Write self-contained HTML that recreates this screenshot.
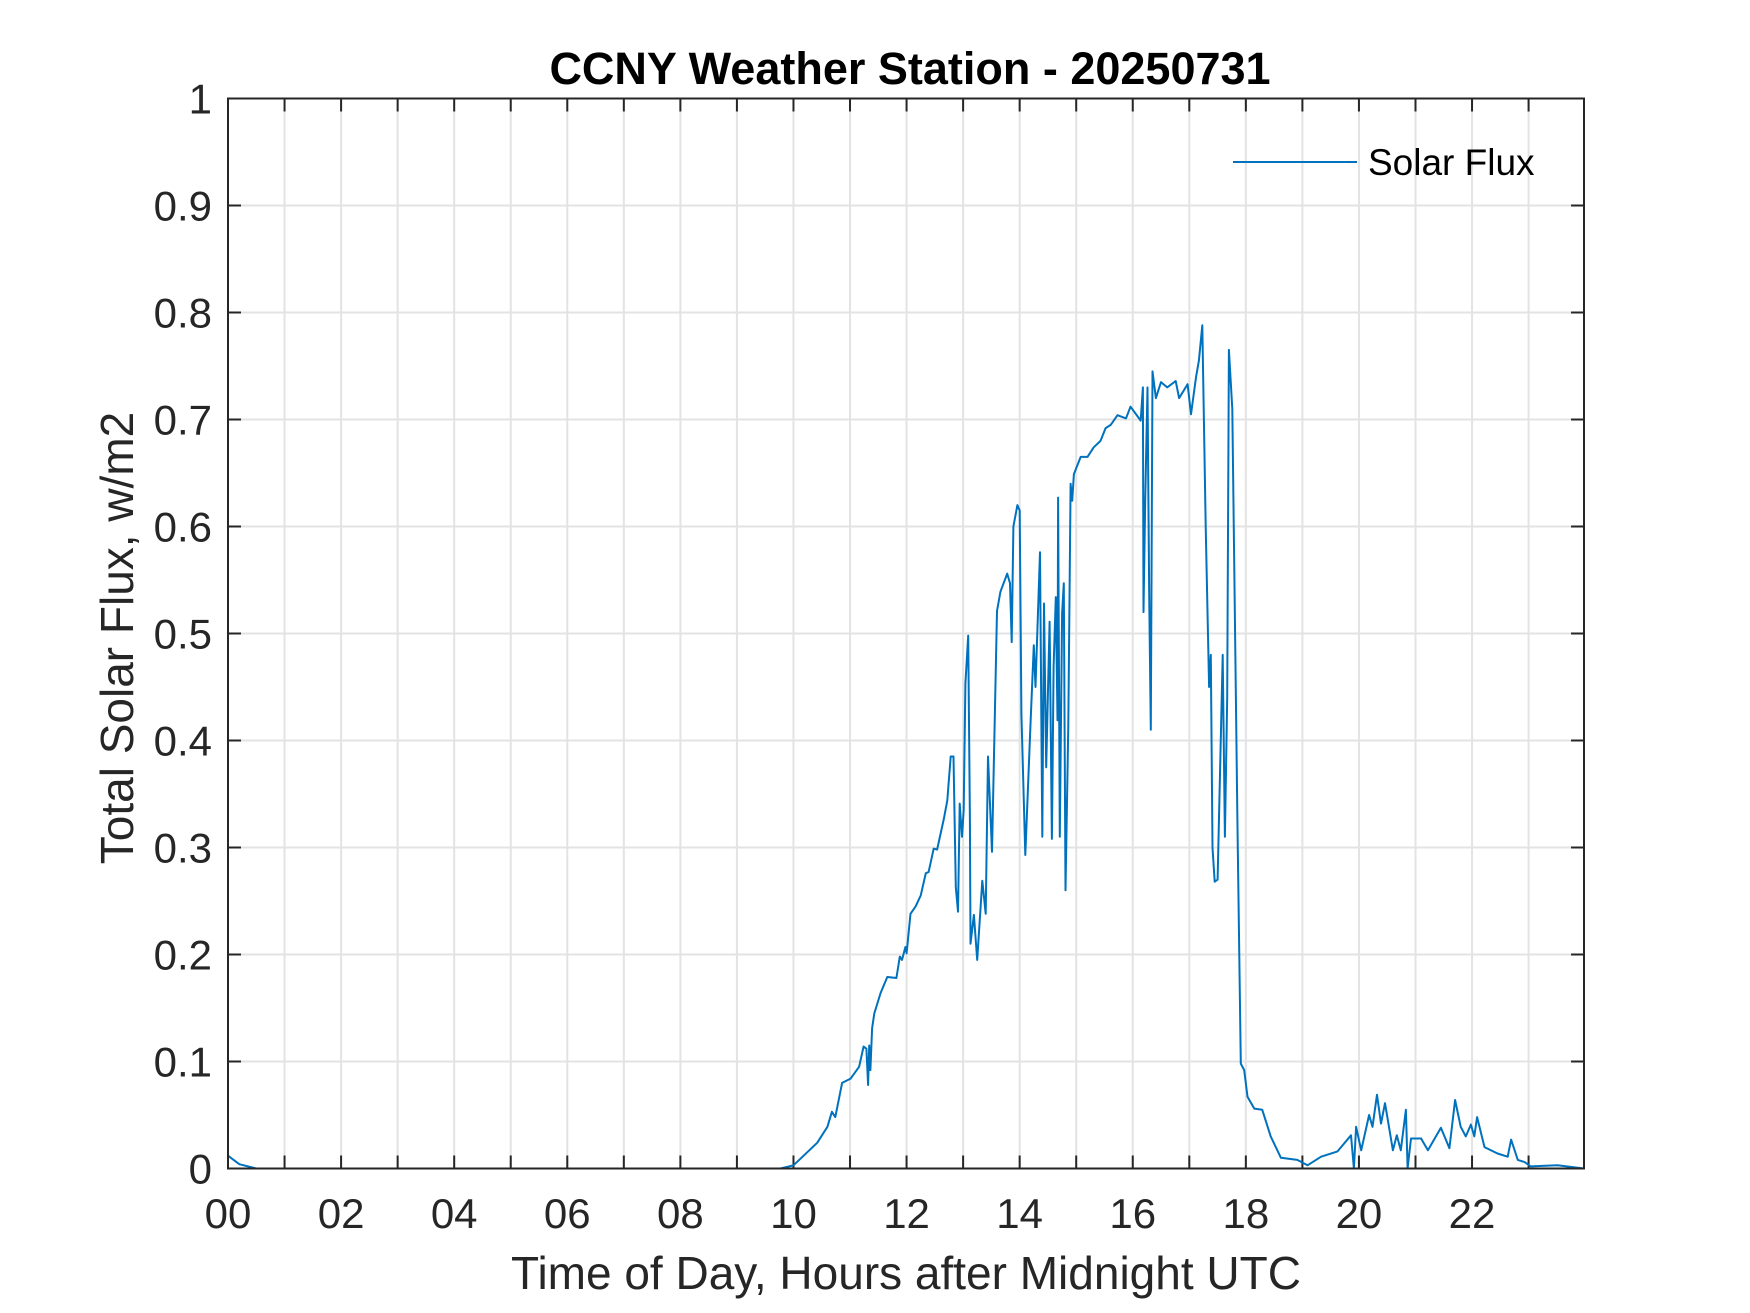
<!DOCTYPE html>
<html><head><meta charset="utf-8"><style>
html,body{margin:0;padding:0;background:#fff;}
svg{display:block;font-family:"Liberation Sans",Arial,sans-serif;}
</style></head><body>
<svg id="chart" width="1750" height="1313" viewBox="0 0 1750 1313">
<rect x="0" y="0" width="1750" height="1313" fill="#fff"/>
<g id="grid"></g>
<g id="ticks"></g>
<g id="series"></g>
<rect x="228" y="98.5" width="1356" height="1070" fill="none" stroke="#262626" stroke-width="2"/>
<text x="910" y="84" text-anchor="middle" font-size="45" font-weight="bold" fill="#000">CCNY Weather Station - 20250731</text>
<text x="906" y="1289" text-anchor="middle" font-size="46" fill="#262626">Time of Day, Hours after Midnight UTC</text>
<text transform="translate(133,638) rotate(-90)" text-anchor="middle" font-size="46" fill="#262626">Total Solar Flux, w/m2</text>
<g>
<line x1="1233" y1="162" x2="1357" y2="162" stroke="#0072BD" stroke-width="2"/>
<text x="1368" y="175" font-size="37" fill="#000">Solar Flux</text>
</g>
</svg>
<script>
const hours=[0,0.2,0.5,9.77,10.0,10.42,10.6,10.68,10.74,10.86,11.01,11.16,11.24,11.29,11.32,11.34,11.36,11.39,11.43,11.54,11.66,11.82,11.88,11.92,11.98,12.0,12.07,12.16,12.25,12.34,12.39,12.48,12.54,12.66,12.72,12.78,12.83,12.87,12.91,12.94,12.98,13.01,13.04,13.09,13.12,13.13,13.19,13.25,13.34,13.4,13.44,13.51,13.6,13.66,13.78,13.83,13.86,13.89,13.96,14.0,14.03,14.1,14.19,14.25,14.28,14.36,14.4,14.43,14.47,14.53,14.57,14.6,14.64,14.67,14.68,14.71,14.75,14.78,14.81,14.86,14.9,14.93,14.96,15.08,15.2,15.31,15.43,15.52,15.61,15.73,15.88,15.96,16.14,16.18,16.19,16.22,16.26,16.29,16.32,16.35,16.41,16.5,16.61,16.76,16.82,16.97,17.03,17.12,17.17,17.23,17.29,17.35,17.38,17.41,17.45,17.5,17.59,17.63,17.67,17.7,17.76,17.85,17.91,17.97,18.03,18.15,18.29,18.44,18.62,18.91,19.09,19.33,19.62,19.86,19.91,19.95,20.04,20.18,20.24,20.32,20.39,20.46,20.6,20.67,20.74,20.83,20.86,20.92,21.1,21.22,21.45,21.6,21.7,21.8,21.89,21.98,22.04,22.09,22.22,22.45,22.63,22.69,22.81,22.93,23.04,23.51,23.98];
const flux=[0.012,0.004,0,0,0.003,0.024,0.039,0.053,0.048,0.08,0.084,0.095,0.114,0.112,0.078,0.115,0.092,0.131,0.145,0.164,0.179,0.178,0.198,0.195,0.207,0.201,0.238,0.245,0.255,0.276,0.277,0.299,0.298,0.327,0.344,0.385,0.385,0.263,0.24,0.341,0.31,0.335,0.453,0.498,0.326,0.21,0.237,0.195,0.269,0.238,0.385,0.296,0.521,0.539,0.556,0.547,0.492,0.6,0.62,0.615,0.425,0.293,0.413,0.489,0.45,0.576,0.31,0.528,0.375,0.511,0.308,0.469,0.534,0.419,0.627,0.31,0.519,0.547,0.26,0.414,0.64,0.624,0.649,0.665,0.665,0.674,0.68,0.692,0.695,0.704,0.701,0.712,0.699,0.73,0.52,0.624,0.73,0.535,0.41,0.745,0.72,0.735,0.73,0.736,0.72,0.733,0.705,0.74,0.755,0.788,0.6,0.45,0.48,0.3,0.268,0.27,0.48,0.31,0.44,0.765,0.71,0.326,0.098,0.092,0.067,0.056,0.055,0.03,0.01,0.008,0.003,0.011,0.016,0.031,0,0.039,0.017,0.05,0.039,0.069,0.042,0.061,0.017,0.031,0.017,0.055,0,0.028,0.028,0.017,0.038,0.019,0.064,0.039,0.03,0.041,0.03,0.048,0.02,0.014,0.011,0.027,0.008,0.006,0.002,0.003,0];
const xTickLabels=["00","02","04","06","08","10","12","14","16","18","20","22"];
const yTickLabels=["0","0.1","0.2","0.3","0.4","0.5","0.6","0.7","0.8","0.9","1"];
const NS="http://www.w3.org/2000/svg";
const L=228,R=1584,T=98.5,B=1168.5,XMAX=23.98;
function xs(h){return L+(R-L)*h/XMAX;}
function ys(v){return B-(B-T)*v;}
function mk(tag,attrs,parent){const e=document.createElementNS(NS,tag);for(const k in attrs)e.setAttribute(k,attrs[k]);parent.appendChild(e);return e;}
const grid=document.getElementById('grid'),ticks=document.getElementById('ticks'),series=document.getElementById('series');
for(let h=1;h<=23;h++){
  const x=xs(h);
  const g=mk('line',{x1:x,y1:T,x2:x,y2:B,stroke:'#e3e3e3','stroke-width':2},grid);
  
  
  const t1=mk('line',{x1:x,y1:B,x2:x,y2:B-13,stroke:'#262626','stroke-width':2},ticks);
  
  
  const t2=mk('line',{x1:x,y1:T,x2:x,y2:T+13,stroke:'#262626','stroke-width':2},ticks);
  
  
}
xTickLabels.forEach(function(lab,i){
  const t=mk('text',{x:xs(i*2),y:1228,'text-anchor':'middle','font-size':42,fill:'#262626'},ticks);
  t.textContent=lab;
  
  
});
yTickLabels.forEach(function(lab,i){
  const v=parseFloat(lab),y=ys(v);
  if(i>0&&i<yTickLabels.length-1){
    const g=mk('line',{x1:L,y1:y,x2:R,y2:y,stroke:'#e3e3e3','stroke-width':2},grid);
    
    
    const t1=mk('line',{x1:L,y1:y,x2:L+13,y2:y,stroke:'#262626','stroke-width':2},ticks);
    
    
    const t2=mk('line',{x1:R,y1:y,x2:R-13,y2:y,stroke:'#262626','stroke-width':2},ticks);
    
    
  }
  const t=mk('text',{x:212,y:y+15,'text-anchor':'end','font-size':42,fill:'#262626'},ticks);
  t.textContent=lab;
  
  
});
let d='';
hours.forEach(function(h,i){d+=(i?'L':'M')+xs(h).toFixed(1)+' '+ys(flux[i]).toFixed(1);});
const p=mk('path',{d:d,fill:'none',stroke:'#0072BD','stroke-width':2,'stroke-linejoin':'round'},series);


</script>
</body></html>
